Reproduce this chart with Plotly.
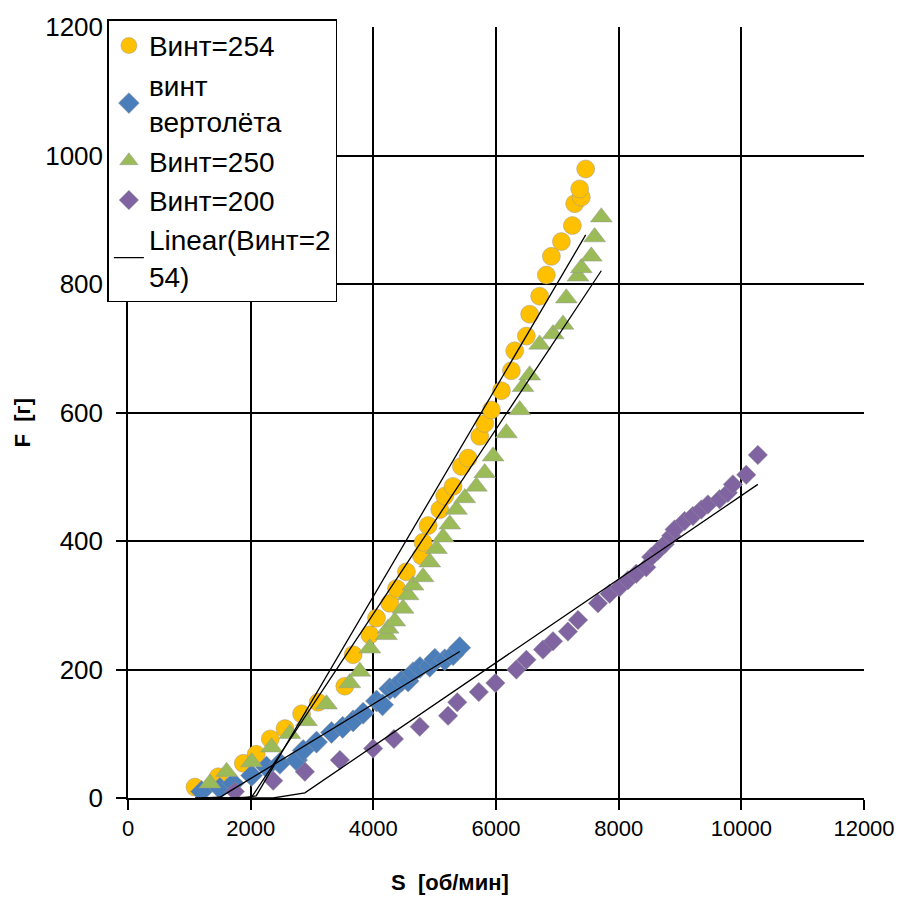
import numpy as np
import plotly.graph_objects as go

# ---- data ----
x_254 = [1092, 1471, 1880, 2090, 2320, 2560, 2830, 3100, 3535, 3671, 3943, 4052, 4268, 4378,
         4540, 4785, 4811, 4893, 5083, 5164, 5300, 5436, 5544, 5735, 5816, 5925, 6088, 6251,
         6305, 6495, 6549, 6712, 6821, 6903, 7066, 7245, 7283, 7391, 7364, 7462]
y_254 = [17, 33, 54, 68, 92, 108, 131, 149, 174, 223, 254, 280, 303, 326,
         352, 377, 398, 424, 449, 470, 485, 516, 529, 563, 583, 604, 634, 665,
         696, 719, 753, 781, 814, 843, 866, 891, 925, 935, 948, 979]

x_heli = [1200, 1499, 1716, 2015, 2259, 2476, 2748, 2857, 3074, 3318, 3500, 3671, 3834, 4052,
          4150, 4268, 4350, 4460, 4567, 4648, 4760, 4920, 5002, 5164, 5300, 5409]
y_heli = [10, 15, 23, 35, 48, 54, 59, 74, 87, 102, 110, 120, 132, 151,
          145, 170, 172, 182, 182, 195, 203, 205, 216, 215, 223, 234]

x_250 = [1336, 1608, 2015, 2341, 2639, 2911, 3237, 3617, 3780, 3943, 4214, 4241, 4350, 4485,
         4567, 4648, 4811, 4920, 5029, 5137, 5246, 5355, 5491, 5680, 5816, 5953, 6170, 6387,
         6440, 6549, 6712, 6930, 7092, 7146, 7337, 7391, 7554, 7608, 7717]
y_250 = [23, 41, 56, 79, 100, 120, 146, 179, 197, 233, 254, 264, 275, 295,
         316, 331, 344, 367, 388, 406, 426, 449, 467, 485, 506, 532, 568, 604,
         640, 658, 706, 722, 737, 778, 812, 825, 843, 873, 904]

x_200 = [1743, 2367, 2884, 3454, 3997, 4336, 4757, 5218, 5368, 5720, 5990, 6332, 6495, 6766,
         6929, 7173, 7337, 7662, 7853, 8015, 8151, 8287, 8450, 8531, 8640, 8749, 8857, 8912,
         9075, 9210, 9347, 9455, 9645, 9780, 9862, 10080, 10269]
y_200 = [10, 27, 41, 59, 77, 92, 111, 128, 149, 165, 179, 200, 215, 231,
         244, 259, 277, 303, 318, 328, 339, 349, 359, 375, 385, 395, 408, 418,
         431, 439, 449, 457, 465, 475, 488, 503, 534]

# linear trend parameters (slope, intercept)
trend_254 = (0.1625, -336.2)
trend_heli = (0.058, -85.8)
trend_250 = (0.1437, -288.3)
trend_200 = (0.065, -179.4)

x_ticks = [0, 2000, 4000, 6000, 8000, 10000, 12000]
y_ticks = [0, 200, 400, 600, 800, 1000, 1200]

FONT = "Liberation Sans, Arial, sans-serif"


def trend(xs, p):
    xs = np.sort(np.asarray(xs, dtype=float))
    ys = np.clip(p[0] * xs + p[1], 0, None)
    return xs, ys


fig = go.Figure()

edge = dict(width=0.8, color="rgba(150,150,150,0.6)")
fig.add_trace(go.Scatter(x=x_254, y=y_254, mode="markers", name="Винт=254",
                         marker=dict(symbol="circle", size=18, color="#FFC000", line=edge)))
fig.add_trace(go.Scatter(x=x_heli, y=y_heli, mode="markers", name="винт<br>вертолёта",
                         marker=dict(symbol="diamond", size=17, color="#4A7EBB", line=edge)))
fig.add_trace(go.Scatter(x=x_250, y=y_250, mode="markers", name="Винт=250",
                         marker=dict(symbol="triangle-up", size=19, color="#9BBB59", line=edge)))
fig.add_trace(go.Scatter(x=x_200, y=y_200, mode="markers", name="Винт=200",
                         marker=dict(symbol="diamond", size=15, color="#8064A2", line=edge)))

tx, ty = trend(x_254, trend_254)
fig.add_trace(go.Scatter(x=tx, y=ty, mode="lines", name="Linear(Винт=2<br>54)",
                         line=dict(color="black", width=1.3)))
for xs, p in [(x_heli, trend_heli), (x_250, trend_250), (x_200, trend_200)]:
    tx, ty = trend(xs, p)
    fig.add_trace(go.Scatter(x=tx, y=ty, mode="lines", showlegend=False,
                             line=dict(color="black", width=1.3)))

axis_common = dict(showgrid=True, gridcolor="black", gridwidth=1.5,
                   showline=True, linecolor="black", linewidth=1.5,
                   ticks="outside", ticklen=10, tickcolor="black", tickwidth=1.5,
                   zeroline=False, mirror=False)

fig.update_xaxes(range=[0, 12000], tickvals=x_ticks, ticktext=[str(v) for v in x_ticks],
                 tickfont=dict(family=FONT, size=22, color="black"), **axis_common)
fig.update_yaxes(range=[0, 1200], tickvals=y_ticks, ticktext=[str(v) for v in y_ticks],
                 tickfont=dict(family=FONT, size=26, color="black"), ticklabelstandoff=8,
                 **axis_common)

fig.update_layout(
    width=908, height=921,
    margin=dict(l=128, r=44, t=20, b=123),
    paper_bgcolor="white", plot_bgcolor="white",
    font=dict(family=FONT, color="black"),
    legend=dict(x=-0.028, y=1.01, xanchor="left", yanchor="top",
                bgcolor="white", bordercolor="black", borderwidth=1.5,
                font=dict(family=FONT, size=28, color="black"),
                tracegroupgap=0, itemwidth=30),
    annotations=[
        dict(text="<b>S  [об/мин]</b>", xref="paper", yref="paper",
             x=(450 - 128) / 736, y=-(883 - 798) / 778, xanchor="center", yanchor="middle",
             showarrow=False, font=dict(family=FONT, size=22, color="black")),
        dict(text="<b>F  [г]</b>", xref="paper", yref="paper",
             x=-(128 - 22) / 736, y=(798 - 420) / 778, xanchor="center", yanchor="middle",
             textangle=-90, showarrow=False, font=dict(family=FONT, size=22, color="black")),
    ],
)

fig.write_html("out.html")
